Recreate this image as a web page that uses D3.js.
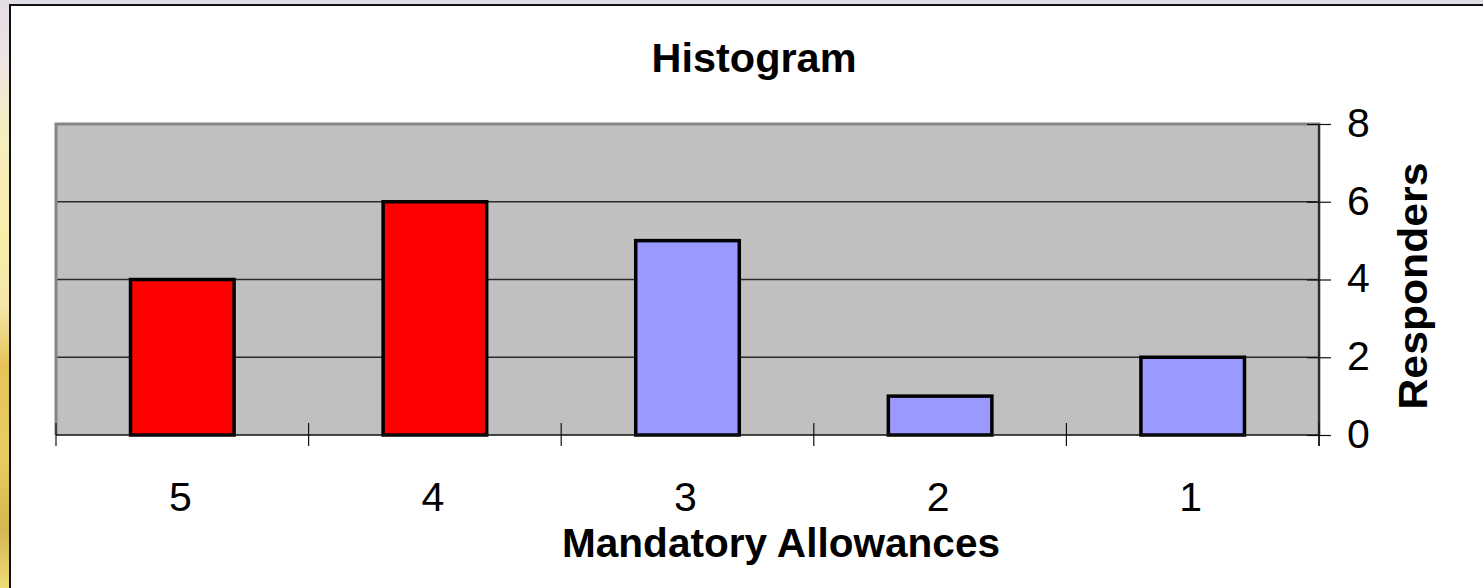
<!DOCTYPE html>
<html>
<head>
<meta charset="utf-8">
<script src="https://cdn.jsdelivr.net/npm/d3@7"></script>
<style>
  html, body { margin: 0; padding: 0; background: #ffffff; }
  svg { display: block; font-family: "Liberation Sans", Arial, sans-serif; }
</style>
</head>
<body>
<svg id="chart" width="1483" height="588"></svg>
<script>
// Histogram data: number of responders per mandatory-allowance score
const categories = ["5", "4", "3", "2", "1"];
const responders = [4, 6, 5, 1, 2];
const barColors = ["#ff0000", "#ff0000", "#9999ff", "#9999ff", "#9999ff"];
const yTicks = [0, 2, 4, 6, 8];

const svg = d3.select("#chart");
const W = 1483, H = 588;

// Slide backdrop strip along the left and top edges
const defs = svg.append("defs");
const grad = defs.append("linearGradient")
  .attr("id", "edge").attr("x1", 0).attr("y1", 0).attr("x2", 0).attr("y2", 1);
[[0, "#e4dce6"], [0.1, "#eee4e4"], [0.22, "#f6eec0"], [0.4, "#f8eeaa"], [0.52, "#f4e6a8"],
 [0.62, "#e6c458"], [0.78, "#e8cc64"], [0.9, "#d6b650"], [1, "#eedc78"]]
  .forEach(([o, c]) => grad.append("stop").attr("offset", o).attr("stop-color", c));
svg.append("rect").attr("width", W).attr("height", H).attr("fill", "url(#edge)");
svg.append("rect").attr("x", 10).attr("y", 0).attr("width", W).attr("height", 5).attr("fill", "#e2dce4");

// Chart frame
svg.append("rect")
  .attr("x", 10).attr("y", 5).attr("width", W + 20).attr("height", H + 20)
  .attr("fill", "#ffffff").attr("stroke", "#111111").attr("stroke-width", 2);

const plot = { left: 56, right: 1319, top: 124, bottom: 435 };

const x = d3.scaleBand().domain(categories)
  .range([plot.left, plot.right]).paddingInner(0.59).paddingOuter(0.295);
const xb = d3.scaleBand().domain(categories).range([plot.left, plot.right]);
const y = d3.scaleLinear().domain([0, 8]).range([plot.bottom, plot.top]);

// Plot area background
svg.append("rect")
  .attr("x", plot.left).attr("y", plot.top)
  .attr("width", plot.right - plot.left).attr("height", plot.bottom - plot.top)
  .attr("fill", "#c0c0c0");

// Horizontal gridlines
svg.append("g").selectAll("line")
  .data(yTicks.filter(t => t > 0 && t < 8)).join("line")
  .attr("x1", plot.left).attr("x2", plot.right)
  .attr("y1", d => y(d)).attr("y2", d => y(d))
  .attr("stroke", "#2a2a2a").attr("stroke-width", 1.6);

// Plot border (gray top, left, right)
svg.append("path")
  .attr("d", `M${plot.left},${plot.bottom} V${plot.top} H${plot.right} V${plot.bottom}`)
  .attr("fill", "none").attr("stroke", "#858585").attr("stroke-width", 3);

// Bars
svg.append("g").selectAll("rect")
  .data(responders).join("rect")
  .attr("x", (d, i) => x(categories[i]))
  .attr("width", x.bandwidth())
  .attr("y", d => y(d))
  .attr("height", d => y(0) - y(d))
  .attr("fill", (d, i) => barColors[i])
  .attr("stroke", "#000000").attr("stroke-width", 3.5);

// X axis (category boundaries as ticks)
const xAxis = svg.append("g");
xAxis.append("line")
  .attr("x1", plot.left).attr("x2", plot.right)
  .attr("y1", plot.bottom).attr("y2", plot.bottom)
  .attr("stroke", "#111111").attr("stroke-width", 1.5);
const bounds = categories.map(c => xb(c)).concat([plot.right]);
xAxis.selectAll("line.tick").data(bounds).join("line").attr("class", "tick")
  .attr("x1", d => d).attr("x2", d => d)
  .attr("y1", plot.bottom - 12).attr("y2", plot.bottom + 11)
  .attr("stroke", "#111111").attr("stroke-width", 1.2);
xAxis.selectAll("text").data(categories).join("text")
  .attr("x", d => xb(d) + xb.bandwidth() / 2 - 2)
  .attr("y", 511)
  .attr("text-anchor", "middle")
  .attr("font-size", 41)
  .attr("fill", "#000000")
  .text(d => d);

// Y axis on the right
const yAxis = svg.append("g").attr("transform", `translate(${plot.right},0)`)
  .call(d3.axisRight(y).tickValues(yTicks).tickSize(12).tickPadding(16).tickSizeOuter(0));
yAxis.select(".domain").attr("stroke", "#111111").attr("stroke-width", 1.5)
  .attr("d", `M0,${plot.top} V${plot.bottom + 11}`);
yAxis.selectAll(".tick line").attr("x1", -12).attr("stroke", "#111111").attr("stroke-width", 1.2);
yAxis.selectAll(".tick text")
  .attr("font-family", "Liberation Sans, Arial, sans-serif")
  .attr("font-size", 41).attr("fill", "#000000")
  .attr("dy", "0.3em");

// Titles
svg.append("text")
  .attr("x", 754).attr("y", 72)
  .attr("text-anchor", "middle")
  .attr("font-size", 40).attr("font-weight", "bold")
  .attr("textLength", 205).attr("lengthAdjust", "spacingAndGlyphs")
  .text("Histogram");

svg.append("text")
  .attr("x", 781).attr("y", 557)
  .attr("text-anchor", "middle")
  .attr("font-size", 40).attr("font-weight", "bold")
  .attr("textLength", 438).attr("lengthAdjust", "spacingAndGlyphs")
  .text("Mandatory Allowances");

svg.append("text")
  .attr("transform", "translate(1427,286) rotate(-90)")
  .attr("text-anchor", "middle")
  .attr("font-size", 41).attr("font-weight", "bold")
  .attr("textLength", 247).attr("lengthAdjust", "spacingAndGlyphs")
  .text("Responders");
</script>
</body>
</html>
